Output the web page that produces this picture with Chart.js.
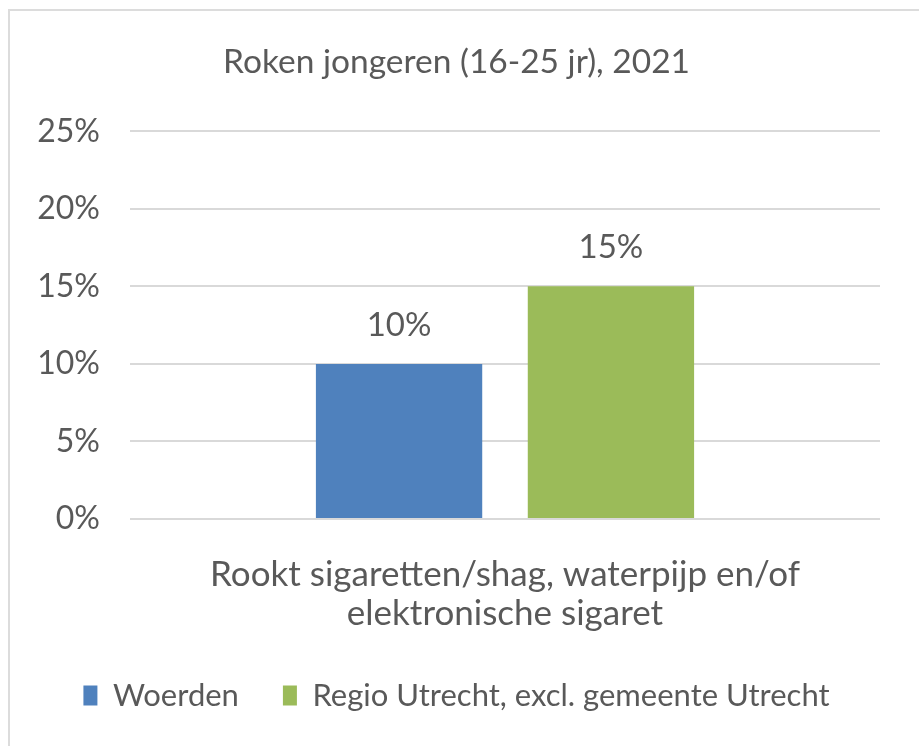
<!DOCTYPE html>
<html>
<head>
<meta charset="utf-8">
<script src="https://cdn.jsdelivr.net/npm/chart.js@4"></script>
<style>
  html, body { margin: 0; padding: 0; background: #ffffff; }
  #wrap { position: relative; width: 919px; height: 746px; overflow: hidden; background: #ffffff; }
  #frame { position: absolute; left: 8px; top: 9px; width: 1000px; height: 1000px; border: 2px solid #dcdcdc; box-sizing: border-box; }
  canvas { position: absolute; left: 0; top: 0; }
</style>
</head>
<body>
<div id="wrap">
  <div id="frame"></div>
  <canvas id="c" width="919" height="746"></canvas>
</div>
<script>
const chartTitle = "Roken jongeren (16-25 jr), 2021";
const categories = [["Rookt sigaretten/shag, waterpijp en/of", "elektronische sigaret"]];
const seriesNames = ["Woerden", "Regio Utrecht, excl. gemeente Utrecht"];
const woerdenValues = [10];
const regioValues = [15];
const yTicks = [0, 5, 10, 15, 20, 25];

const TEXT = "#595959";
const FONT = "Lato, 'Open Sans', sans-serif";

const dataLabels = {
  id: "dataLabels",
  afterDatasetsDraw(chart) {
    const ctx = chart.ctx;
    ctx.save();
    ctx.fillStyle = TEXT;
    ctx.font = "33px " + FONT;
    ctx.textAlign = "center";
    ctx.textBaseline = "middle";
    chart.data.datasets.forEach((ds, i) => {
      chart.getDatasetMeta(i).data.forEach((bar, j) => {
        ctx.fillText(ds.data[j] + "%", bar.x, bar.y - 39);
      });
    });
    ctx.restore();
  }
};

new Chart(document.getElementById("c"), {
  type: "bar",
  data: {
    labels: categories,
    datasets: [
      { label: seriesNames[0], data: woerdenValues, backgroundColor: "#4F81BD" },
      { label: seriesNames[1], data: regioValues, backgroundColor: "#9BBB59" }
    ]
  },
  options: {
    responsive: false,
    animation: false,
    devicePixelRatio: 1,
    categoryPercentage: 0.565,
    barPercentage: 0.785,
    layout: { padding: { left: 33, right: 39, top: 0, bottom: 25 } },
    plugins: {
      title: {
        display: true,
        text: chartTitle,
        color: TEXT,
        font: { family: FONT, size: 33.5, weight: "normal" },
        padding: { top: 42, bottom: 49 }
      },
      legend: {
        position: "bottom",
        labels: {
          color: TEXT,
          font: { family: FONT, size: 31 },
          boxWidth: 14,
          boxHeight: 20,
          padding: 44
        }
      },
      tooltip: { enabled: false }
    },
    scales: {
      x: {
        afterFit(scale) { scale.height = 117; },
        grid: { display: false },
        border: { display: false },
        ticks: { color: TEXT, font: { family: FONT, size: 35, lineHeight: 1.12 }, padding: 28, maxRotation: 0 }
      },
      y: {
        min: 0,
        max: 25,
        afterFit(scale) { scale.width = 97; },
        afterBuildTicks(scale) { scale.ticks = yTicks.map(v => ({ value: v })); },
        grid: { color: "#d9d9d9", lineWidth: 2, drawTicks: false },
        border: { display: false },
        ticks: { color: TEXT, font: { family: FONT, size: 32 }, padding: 30, callback: v => v + "%" }
      }
    }
  },
  plugins: [dataLabels]
});
</script>
</body>
</html>
